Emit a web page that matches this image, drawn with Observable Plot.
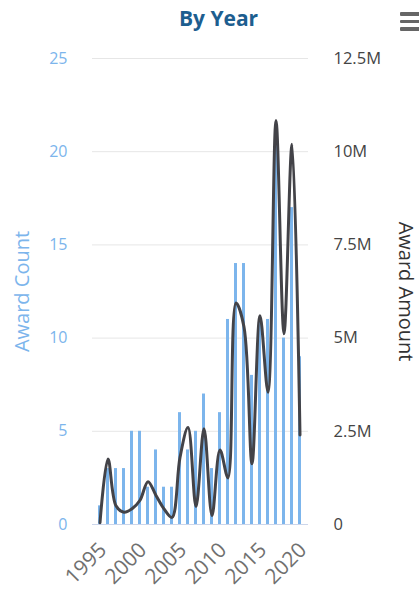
<!DOCTYPE html>
<html>
<head>
<meta charset="utf-8">
<script src="https://cdn.jsdelivr.net/npm/d3@7"></script>
<script src="https://cdn.jsdelivr.net/npm/@observablehq/plot@0.6"></script>
<style>
  body { margin: 0; background: #fff; }
  #chart { position: relative; width: 419px; height: 593px; overflow: hidden; }
  #chart svg { display: block; }
  .menu { position: absolute; left: 400px; top: 12px; width: 22px; }
  .menu span { display: block; height: 3.5px; background: #666; margin-bottom: 4px; border-radius: 1px; }
</style>
</head>
<body>
<div id="chart"><div class="menu"><span></span><span></span><span></span></div></div>
<script>
// Awards per year: number of awards (bars, left axis) and total amount (line, right axis)
const years = [1995, 1996, 1997, 1998, 1999, 2000, 2001, 2002, 2003, 2004, 2005, 2006, 2007,
               2008, 2009, 2010, 2011, 2012, 2013, 2014, 2015, 2016, 2017, 2018, 2019, 2020];
const awardCount = [1, 3, 3, 3, 5, 5, 2, 4, 2, 2, 6, 4, 5,
                    7, 3, 6, 11, 14, 14, 8, 11, 11, 21, 10, 17, 9];
const awardAmount = [0.05e6, 1.76e6, 0.5e6, 0.33e6, 0.42e6, 0.65e6, 1.15e6, 0.78e6, 0.42e6, 0.19e6, 1.8e6, 2.6e6, 0.48e6,
                     2.57e6, 0.24e6, 2.0e6, 1.25e6, 5.94e6, 5.3e6, 1.63e6, 5.6e6, 3.55e6, 10.84e6, 5.12e6, 10.2e6, 2.4e6];

const countTicks = [0, 5, 10, 15, 20, 25];
const amountTicks = [0, 2.5e6, 5e6, 7.5e6, 10e6, 12.5e6];
const amountTickLabels = ["0", "2.5M", "5M", "7.5M", "10M", "12.5M"];
const yearTicks = [1995, 2000, 2005, 2010, 2015, 2020];

// The right axis shares the left axis grid: 12.5M lines up with 25 awards
const amountPerCount = amountTicks[amountTicks.length - 1] / countTicks[countTicks.length - 1];
const amountLabelAt = new Map(amountTicks.map((v, i) => [v / amountPerCount, amountTickLabels[i]]));

const rows = years.map((year, i) => ({year, count: awardCount[i], amount: awardAmount[i]}));

const chart = Plot.plot({
  width: 419,
  height: 593,
  marginTop: 58,
  marginBottom: 69,
  marginLeft: 92,
  marginRight: 111,
  style: {fontFamily: "Open Sans", fontSize: "16px", background: "#fff", overflow: "visible"},
  x: {type: "band", domain: years, paddingInner: 0.62, paddingOuter: 0.31, align: 0.5},
  y: {domain: [0, 25]},
  marks: [
    Plot.gridY(countTicks, {stroke: "#e6e6e6", strokeOpacity: 1}),
    Plot.barY(rows, {x: "year", y: "count", fill: "#7cb5ec"}),
    Plot.ruleY([0], {stroke: "#ccd6eb"}),
    Plot.line(rows, {x: "year", y: d => d.amount / amountPerCount, stroke: "#434348",
                     strokeWidth: 3, curve: "catmull-rom"}),
    Plot.axisY(countTicks, {anchor: "left", tickSize: 0, tickPadding: 25, fill: "#7cb5ec", label: null}),
    Plot.axisY([...amountLabelAt.keys()], {anchor: "right", tickSize: 0, tickPadding: 25,
                tickFormat: d => amountLabelAt.get(d), fill: "#444", fontSize: 16.5,
                letterSpacing: 1, label: null}),
    Plot.axisX(yearTicks, {tickRotate: -45, tickSize: 0, tickPadding: 22, dx: 3,
                           textAnchor: "end", fontSize: 21,
                           tickFormat: d => `${d}`, fill: "#707070", label: null}),
    Plot.text(["Award Count"], {text: d => d, frameAnchor: "left", textAnchor: "middle", dx: -70, rotate: -90,
                                fill: "#7cb5ec", fontSize: 20}),
    Plot.text(["Award Amount"], {text: d => d, frameAnchor: "right", textAnchor: "middle", dx: 97, rotate: 90,
                                 fill: "#333", fontSize: 20}),
    Plot.text(["By Year"], {text: d => d, frameAnchor: "top", lineAnchor: "bottom", dy: -33, dx: 18,
                            fontSize: 21, fontWeight: "bold", fill: "#1d5e8f"})
  ]
});

document.getElementById("chart").prepend(chart);
</script>
</body>
</html>
